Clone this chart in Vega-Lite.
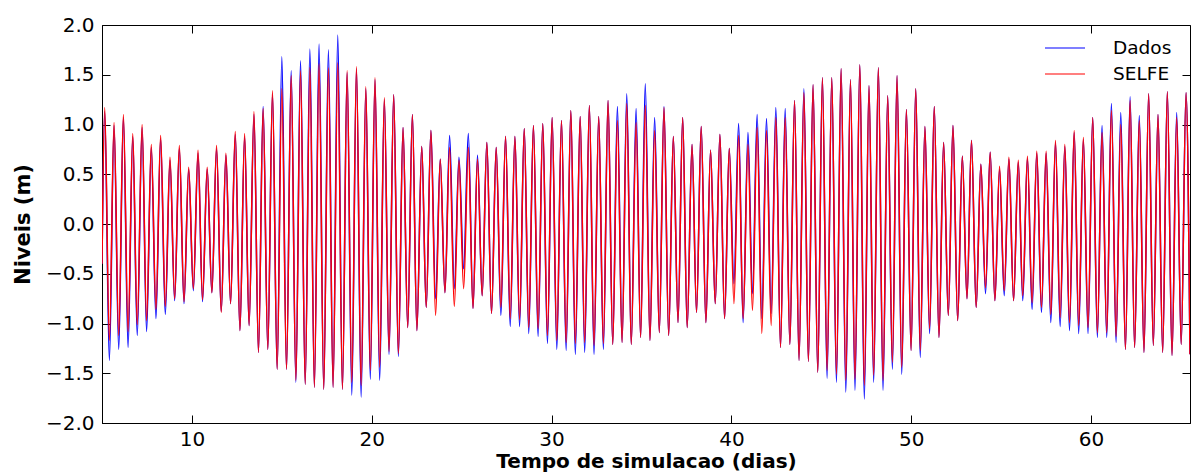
{
"$schema":"https://vega.github.io/schema/vega-lite/v6.json",
"width":1088,"height":398,
"autosize":{"type":"none"},
"padding":{"left":102,"top":25,"right":2,"bottom":52},
"background":"white",
"config":{"view":{"stroke":"#000","strokeWidth":1},"font":"DejaVu Sans",
"axis":{"labelFont":"DejaVu Sans","labelFontSize":20,"labelColor":"#000","titleFont":"DejaVu Sans","titleFontSize":21,"titleFontWeight":"bold","titleColor":"#000","domainColor":"#000","tickColor":"#000","tickWidth":1,"tickSize":-8,"labelPadding":16,"grid":false,"labelFlush":false,"labelOverlap":false}},
"data":{"values":[
{"t":5.0,"Dados":-0.40,"SELFE":-0.40},
{"t":5.15,"Dados":1.13,"SELFE":1.17},{"t":5.41,"Dados":-1.37,"SELFE":-1.17},
{"t":5.67,"Dados":0.99,"SELFE":1.02},{"t":5.93,"Dados":-1.26,"SELFE":-1.12},
{"t":6.19,"Dados":1.07,"SELFE":1.10},{"t":6.45,"Dados":-1.24,"SELFE":-1.08},
{"t":6.71,"Dados":0.88,"SELFE":0.91},{"t":6.96,"Dados":-1.12,"SELFE":-1.01},
{"t":7.23,"Dados":0.97,"SELFE":1.00},{"t":7.48,"Dados":-1.08,"SELFE":-0.97},
{"t":7.74,"Dados":0.77,"SELFE":0.80},{"t":8.00,"Dados":-0.95,"SELFE":-0.86},
{"t":8.26,"Dados":0.86,"SELFE":0.89},{"t":8.52,"Dados":-0.91,"SELFE":-0.83},
{"t":8.78,"Dados":0.64,"SELFE":0.67},{"t":9.04,"Dados":-0.77,"SELFE":-0.75},
{"t":9.30,"Dados":0.76,"SELFE":0.79},{"t":9.56,"Dados":-0.80,"SELFE":-0.78},
{"t":9.82,"Dados":0.55,"SELFE":0.57},{"t":10.08,"Dados":-0.67,"SELFE":-0.65},
{"t":10.34,"Dados":0.71,"SELFE":0.74},{"t":10.59,"Dados":-0.78,"SELFE":-0.76},
{"t":10.85,"Dados":0.55,"SELFE":0.57},{"t":11.11,"Dados":-0.69,"SELFE":-0.69},
{"t":11.37,"Dados":0.76,"SELFE":0.79},{"t":11.63,"Dados":-0.88,"SELFE":-0.89},
{"t":11.89,"Dados":0.69,"SELFE":0.71},{"t":12.15,"Dados":-0.80,"SELFE":-0.80},
{"t":12.41,"Dados":0.90,"SELFE":0.93},{"t":12.67,"Dados":-1.07,"SELFE":-1.07},
{"t":12.93,"Dados":0.88,"SELFE":0.91},{"t":13.18,"Dados":-1.02,"SELFE":-1.02},
{"t":13.45,"Dados":1.10,"SELFE":1.13},{"t":13.70,"Dados":-1.29,"SELFE":-1.29},
{"t":13.96,"Dados":1.18,"SELFE":1.16},{"t":14.22,"Dados":-1.26,"SELFE":-1.26},
{"t":14.48,"Dados":1.31,"SELFE":1.34},{"t":14.74,"Dados":-1.46,"SELFE":-1.46},
{"t":15.00,"Dados":1.68,"SELFE":1.36},{"t":15.26,"Dados":-1.46,"SELFE":-1.46},
{"t":15.52,"Dados":1.54,"SELFE":1.49},{"t":15.78,"Dados":-1.59,"SELFE":-1.57},
{"t":16.04,"Dados":1.64,"SELFE":1.54},{"t":16.30,"Dados":-1.61,"SELFE":-1.61},
{"t":16.56,"Dados":1.76,"SELFE":1.57},{"t":16.81,"Dados":-1.64,"SELFE":-1.64},
{"t":17.07,"Dados":1.81,"SELFE":1.61},{"t":17.33,"Dados":-1.66,"SELFE":-1.66},
{"t":17.59,"Dados":1.75,"SELFE":1.57},{"t":17.85,"Dados":-1.64,"SELFE":-1.64},
{"t":18.11,"Dados":1.90,"SELFE":1.62},{"t":18.37,"Dados":-1.66,"SELFE":-1.66},
{"t":18.63,"Dados":1.52,"SELFE":1.54},{"t":18.89,"Dados":-1.72,"SELFE":-1.59},
{"t":19.15,"Dados":1.56,"SELFE":1.58},{"t":19.41,"Dados":-1.74,"SELFE":-1.62},
{"t":19.67,"Dados":1.36,"SELFE":1.38},{"t":19.92,"Dados":-1.56,"SELFE":-1.47},
{"t":20.18,"Dados":1.45,"SELFE":1.47},{"t":20.44,"Dados":-1.57,"SELFE":-1.44},
{"t":20.70,"Dados":1.25,"SELFE":1.27},{"t":20.96,"Dados":-1.31,"SELFE":-1.28},
{"t":21.22,"Dados":1.30,"SELFE":1.30},{"t":21.48,"Dados":-1.33,"SELFE":-1.30},
{"t":21.74,"Dados":0.97,"SELFE":0.97},{"t":22.00,"Dados":-1.04,"SELFE":-1.04},
{"t":22.26,"Dados":1.10,"SELFE":1.10},{"t":22.51,"Dados":-1.07,"SELFE":-1.07},
{"t":22.78,"Dados":0.78,"SELFE":0.78},{"t":23.03,"Dados":-0.84,"SELFE":-0.84},
{"t":23.29,"Dados":0.94,"SELFE":0.94},{"t":23.55,"Dados":-0.75,"SELFE":-0.92},
{"t":23.81,"Dados":0.65,"SELFE":0.65},{"t":24.07,"Dados":-0.69,"SELFE":-0.69},
{"t":24.33,"Dados":0.89,"SELFE":0.77},{"t":24.59,"Dados":-0.65,"SELFE":-0.83},
{"t":24.85,"Dados":0.67,"SELFE":0.64},{"t":25.11,"Dados":-0.45,"SELFE":-0.65},
{"t":25.37,"Dados":0.91,"SELFE":0.77},{"t":25.63,"Dados":-0.85,"SELFE":-0.85},
{"t":25.88,"Dados":0.69,"SELFE":0.65},{"t":26.14,"Dados":-0.72,"SELFE":-0.72},
{"t":26.40,"Dados":0.82,"SELFE":0.82},{"t":26.66,"Dados":-0.90,"SELFE":-0.90},
{"t":26.92,"Dados":0.77,"SELFE":0.77},{"t":27.18,"Dados":-0.92,"SELFE":-0.84},
{"t":27.44,"Dados":0.88,"SELFE":0.88},{"t":27.70,"Dados":-1.03,"SELFE":-0.95},
{"t":27.96,"Dados":0.88,"SELFE":0.88},{"t":28.22,"Dados":-1.03,"SELFE":-0.96},
{"t":28.48,"Dados":0.96,"SELFE":0.96},{"t":28.73,"Dados":-1.10,"SELFE":-1.04},
{"t":28.99,"Dados":0.99,"SELFE":0.99},{"t":29.25,"Dados":-1.13,"SELFE":-1.05},
{"t":29.51,"Dados":1.01,"SELFE":1.01},{"t":29.77,"Dados":-1.20,"SELFE":-1.12},
{"t":30.03,"Dados":1.07,"SELFE":1.07},{"t":30.29,"Dados":-1.26,"SELFE":-1.17},
{"t":30.55,"Dados":1.04,"SELFE":1.04},{"t":30.81,"Dados":-1.27,"SELFE":-1.19},
{"t":31.07,"Dados":1.14,"SELFE":1.14},{"t":31.32,"Dados":-1.31,"SELFE":-1.20},
{"t":31.59,"Dados":1.08,"SELFE":1.08},{"t":31.84,"Dados":-1.29,"SELFE":-1.19},
{"t":32.10,"Dados":1.19,"SELFE":1.19},{"t":32.36,"Dados":-1.31,"SELFE":-1.22},
{"t":32.62,"Dados":1.08,"SELFE":1.08},{"t":32.88,"Dados":-1.26,"SELFE":-1.20},
{"t":33.14,"Dados":1.24,"SELFE":1.24},{"t":33.40,"Dados":-1.21,"SELFE":-1.21},
{"t":33.66,"Dados":1.18,"SELFE":1.04},{"t":33.92,"Dados":-1.19,"SELFE":-1.19},
{"t":34.18,"Dados":1.31,"SELFE":1.21},{"t":34.43,"Dados":-1.21,"SELFE":-1.21},
{"t":34.70,"Dados":1.16,"SELFE":1.02},{"t":34.95,"Dados":-1.14,"SELFE":-1.14},
{"t":35.21,"Dados":1.41,"SELFE":1.19},{"t":35.47,"Dados":-1.17,"SELFE":-1.17},
{"t":35.73,"Dados":1.07,"SELFE":0.94},{"t":35.99,"Dados":-1.09,"SELFE":-1.09},
{"t":36.25,"Dados":1.18,"SELFE":1.17},{"t":36.51,"Dados":-1.12,"SELFE":-1.12},
{"t":36.77,"Dados":0.88,"SELFE":0.88},{"t":37.03,"Dados":-0.99,"SELFE":-0.99},
{"t":37.29,"Dados":1.07,"SELFE":1.07},{"t":37.54,"Dados":-1.04,"SELFE":-1.04},
{"t":37.81,"Dados":0.80,"SELFE":0.80},{"t":38.06,"Dados":-0.89,"SELFE":-0.89},
{"t":38.32,"Dados":0.98,"SELFE":0.98},{"t":38.58,"Dados":-0.99,"SELFE":-0.99},
{"t":38.84,"Dados":0.74,"SELFE":0.74},{"t":39.10,"Dados":-0.80,"SELFE":-0.80},
{"t":39.36,"Dados":0.90,"SELFE":0.90},{"t":39.62,"Dados":-0.95,"SELFE":-0.95},
{"t":39.88,"Dados":0.76,"SELFE":0.76},{"t":40.14,"Dados":-0.60,"SELFE":-0.80},
{"t":40.40,"Dados":1.01,"SELFE":0.89},{"t":40.65,"Dados":-0.99,"SELFE":-0.95},
{"t":40.92,"Dados":0.92,"SELFE":0.80},{"t":41.17,"Dados":-0.70,"SELFE":-0.87},
{"t":41.43,"Dados":1.10,"SELFE":0.97},{"t":41.69,"Dados":-0.95,"SELFE":-1.10},
{"t":41.95,"Dados":1.06,"SELFE":0.94},{"t":42.21,"Dados":-0.90,"SELFE":-1.02},
{"t":42.47,"Dados":1.17,"SELFE":1.07},{"t":42.73,"Dados":-1.24,"SELFE":-1.24},
{"t":42.99,"Dados":1.16,"SELFE":1.07},{"t":43.25,"Dados":-1.21,"SELFE":-1.21},
{"t":43.51,"Dados":1.24,"SELFE":1.24},{"t":43.76,"Dados":-1.37,"SELFE":-1.37},
{"t":44.03,"Dados":1.36,"SELFE":1.32},{"t":44.28,"Dados":-1.38,"SELFE":-1.38},
{"t":44.54,"Dados":1.40,"SELFE":1.40},{"t":44.80,"Dados":-1.49,"SELFE":-1.49},
{"t":45.06,"Dados":1.47,"SELFE":1.47},{"t":45.32,"Dados":-1.55,"SELFE":-1.47},
{"t":45.58,"Dados":1.47,"SELFE":1.47},{"t":45.84,"Dados":-1.59,"SELFE":-1.51},
{"t":46.10,"Dados":1.56,"SELFE":1.56},{"t":46.36,"Dados":-1.69,"SELFE":-1.57},
{"t":46.62,"Dados":1.45,"SELFE":1.45},{"t":46.87,"Dados":-1.67,"SELFE":-1.56},
{"t":47.14,"Dados":1.60,"SELFE":1.60},{"t":47.39,"Dados":-1.76,"SELFE":-1.62},
{"t":47.65,"Dados":1.39,"SELFE":1.39},{"t":47.91,"Dados":-1.59,"SELFE":-1.52},
{"t":48.17,"Dados":1.57,"SELFE":1.57},{"t":48.43,"Dados":-1.67,"SELFE":-1.57},
{"t":48.69,"Dados":1.29,"SELFE":1.29},{"t":48.95,"Dados":-1.46,"SELFE":-1.39},
{"t":49.21,"Dados":1.49,"SELFE":1.49},{"t":49.47,"Dados":-1.51,"SELFE":-1.44},
{"t":49.73,"Dados":1.15,"SELFE":1.15},{"t":49.99,"Dados":-1.27,"SELFE":-1.27},
{"t":50.25,"Dados":1.36,"SELFE":1.36},{"t":50.50,"Dados":-1.34,"SELFE":-1.27},
{"t":50.76,"Dados":0.98,"SELFE":0.98},{"t":51.02,"Dados":-1.10,"SELFE":-1.05},
{"t":51.28,"Dados":1.18,"SELFE":1.18},{"t":51.54,"Dados":-1.14,"SELFE":-1.14},
{"t":51.80,"Dados":0.82,"SELFE":0.82},{"t":52.06,"Dados":-0.92,"SELFE":-0.92},
{"t":52.32,"Dados":0.99,"SELFE":0.99},{"t":52.58,"Dados":-0.97,"SELFE":-0.97},
{"t":52.84,"Dados":0.68,"SELFE":0.68},{"t":53.10,"Dados":-0.75,"SELFE":-0.75},
{"t":53.35,"Dados":0.84,"SELFE":0.84},{"t":53.61,"Dados":-0.84,"SELFE":-0.84},
{"t":53.87,"Dados":0.60,"SELFE":0.60},{"t":54.13,"Dados":-0.70,"SELFE":-0.64},
{"t":54.39,"Dados":0.72,"SELFE":0.72},{"t":54.65,"Dados":-0.77,"SELFE":-0.77},
{"t":54.91,"Dados":0.55,"SELFE":0.58},{"t":55.17,"Dados":-0.72,"SELFE":-0.67},
{"t":55.43,"Dados":0.65,"SELFE":0.67},{"t":55.69,"Dados":-0.77,"SELFE":-0.77},
{"t":55.95,"Dados":0.62,"SELFE":0.64},{"t":56.20,"Dados":-0.77,"SELFE":-0.72},
{"t":56.46,"Dados":0.66,"SELFE":0.68},{"t":56.72,"Dados":-0.86,"SELFE":-0.79},
{"t":56.98,"Dados":0.71,"SELFE":0.73},{"t":57.24,"Dados":-0.89,"SELFE":-0.84},
{"t":57.50,"Dados":0.71,"SELFE":0.73},{"t":57.76,"Dados":-0.99,"SELFE":-0.91},
{"t":58.02,"Dados":0.82,"SELFE":0.84},{"t":58.28,"Dados":-1.03,"SELFE":-0.94},
{"t":58.54,"Dados":0.78,"SELFE":0.80},{"t":58.80,"Dados":-1.07,"SELFE":-0.99},
{"t":59.06,"Dados":0.92,"SELFE":0.94},{"t":59.31,"Dados":-1.10,"SELFE":-1.02},
{"t":59.57,"Dados":0.85,"SELFE":0.87},{"t":59.83,"Dados":-1.10,"SELFE":-1.04},
{"t":60.09,"Dados":1.07,"SELFE":1.07},{"t":60.35,"Dados":-1.14,"SELFE":-1.09},
{"t":60.61,"Dados":0.99,"SELFE":0.92},{"t":60.87,"Dados":-1.14,"SELFE":-1.09},
{"t":61.13,"Dados":1.21,"SELFE":1.14},{"t":61.39,"Dados":-1.19,"SELFE":-1.13},
{"t":61.65,"Dados":1.12,"SELFE":1.00},{"t":61.91,"Dados":-1.26,"SELFE":-1.26},
{"t":62.17,"Dados":1.28,"SELFE":1.24},{"t":62.42,"Dados":-1.24,"SELFE":-1.24},
{"t":62.68,"Dados":1.09,"SELFE":1.04},{"t":62.94,"Dados":-1.29,"SELFE":-1.29},
{"t":63.20,"Dados":1.31,"SELFE":1.31},{"t":63.46,"Dados":-1.22,"SELFE":-1.22},
{"t":63.72,"Dados":1.10,"SELFE":1.10},{"t":63.98,"Dados":-1.29,"SELFE":-1.29},
{"t":64.24,"Dados":1.33,"SELFE":1.33},{"t":64.50,"Dados":-1.32,"SELFE":-1.32},
{"t":64.76,"Dados":1.12,"SELFE":1.07},{"t":65.01,"Dados":-1.21,"SELFE":-1.21},
{"t":65.28,"Dados":1.32,"SELFE":1.32},{"t":65.50,"Dados":-1.31,"SELFE":-1.31}
]},
"transform":[{"fold":["Dados","SELFE"],"as":["serie","nivel"]}],
"layer":[
{"mark":{"type":"line","interpolate":"monotone","strokeWidth":1.5,"clip":true},
"encoding":{
"x":{"field":"t","type":"quantitative","scale":{"domain":[5,65.5],"nice":false,"zero":false},"axis":{"title":"Tempo de simulacao (dias)","values":[10,20,30,40,50,60],"format":"d","labelPadding":14,"titlePadding":2,"titleFontSize":20}},
"y":{"field":"nivel","type":"quantitative","scale":{"domain":[-2,2],"nice":false},"axis":{"title":"Niveis (m)","values":[-2,-1.5,-1,-0.5,0,0.5,1,1.5,2],"format":".1f","titlePadding":12}},
"color":{"field":"serie","type":"nominal","sort":["Dados","SELFE"],"scale":{"domain":["Dados","SELFE"],"range":["#0000ff","#ff0000"]},
"legend":{"orient":"none","legendX":952,"legendY":12,"title":null,"symbolType":"M-2,0H2","symbolSize":400,"symbolStrokeWidth":1.2,"labelFont":"DejaVu Sans","labelFontSize":18.5,"labelColor":"#000","labelOffset":37,"rowPadding":5,"padding":0}}
}},
{"mark":{"type":"line","opacity":0},
"encoding":{
"x":{"field":"t","type":"quantitative","scale":{"domain":[5,65.5],"nice":false,"zero":false},"axis":{"orient":"top","labels":false,"title":null,"domain":false,"values":[10,20,30,40,50,60]}},
"y":{"field":"nivel","type":"quantitative","scale":{"domain":[-2,2],"nice":false},"axis":{"orient":"right","labels":false,"title":null,"domain":false,"values":[-2,-1.5,-1,-0.5,0,0.5,1,1.5,2]}}
}}
],
"resolve":{"scale":{"x":"independent","y":"independent"}}
}
